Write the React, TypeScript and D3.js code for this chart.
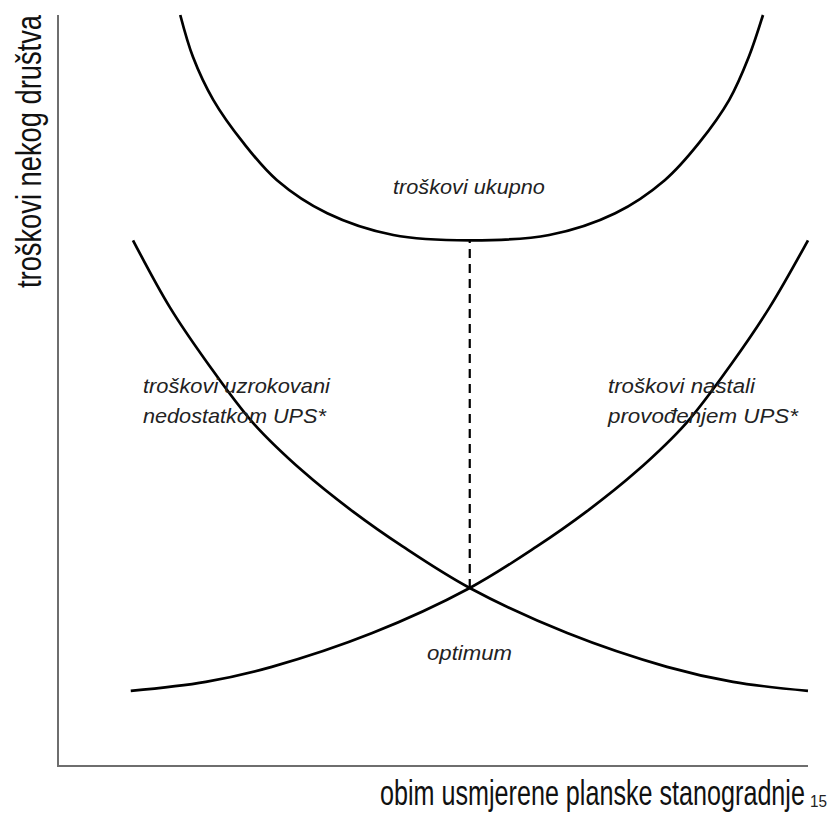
import React, { useLayoutEffect, useRef, useState } from "react";
import * as d3 from "d3";

// values (x: obim 0..100, y: troškovi 0..100)
const nedostatakX = [10, 14.9, 19.9, 26, 32.7, 39.3, 46, 54.9, 67.9, 81.2, 90, 100];
const nedostatakY = [70.0, 61.1, 53.7, 45.7, 39.2, 33.9, 29.2, 23.7, 17.7, 13.2, 11.2, 10.0];

const provodenjeX = [9.7, 19.7, 28.5, 41.9, 54.9, 63.8, 70.5, 77.1, 83.8, 89.9, 94.9, 100];
const provodenjeY = [10.0, 11.2, 13.2, 17.7, 23.7, 29.2, 33.9, 39.2, 45.7, 53.7, 61.1, 70.0];

const ukupnoX = [16.3, 18, 20.7, 24.7, 29.2, 35.9, 44.7, 54.9, 65.5, 74.3, 80.9, 85.5, 89.5, 92.1, 94];
const ukupnoY = [100, 94.4, 88.7, 83, 78, 73.6, 70.7, 70.0, 70.7, 73.6, 78, 83, 88.7, 94.4, 100];

const optimumX = 54.9;
const optimumY = [23.7, 70.0];

const yLabel = "troškovi nekog društva";
const xLabel = "obim usmjerene planske stanogradnje";
const pageNumber = "15";

const W = 829;
const H = 813;

const FONT = "'Liberation Sans Narrow', 'Liberation Sans', Arial, sans-serif";

// text squeezed horizontally to the width it has in the reference
const FitText = ({ x, y, width, rotate = 0, style, children }: any) => {
    const ref = useRef<SVGTextElement>(null);
    const [k, setK] = useState(1);
    useLayoutEffect(() => {
        if (ref.current) {
            const w = ref.current.getComputedTextLength();
            if (w > 0) setK(width / w);
        }
    }, [width, children]);
    return (
        <text ref={ref} transform={`translate(${x},${y}) rotate(${rotate}) scale(${k},1)`} style={style}>
            {children}
        </text>
    );
};

const App = () => {
    const margin = { top: 15, right: 21, bottom: 47, left: 58 };

    const x = d3.scaleLinear().domain([0, 100]).range([margin.left, W - margin.right]);
    const y = d3.scaleLinear().domain([0, 100]).range([H - margin.bottom, margin.top]);

    const line = d3.line<[number, number]>()
        .x(d => x(d[0]))
        .y(d => y(d[1]))
        .curve(d3.curveCatmullRom.alpha(0.5));

    const zip = (xs: number[], ys: number[]) => xs.map((v, i) => [v, ys[i]] as [number, number]);

    const series = [
        zip(nedostatakX, nedostatakY),
        zip(provodenjeX, provodenjeY),
        zip(ukupnoX, ukupnoY),
    ];

    const italic = { fontFamily: FONT, fontStyle: "italic", fontSize: "20px", fill: "#222" };
    const big = { fontFamily: FONT, fontSize: "36px", fill: "#111" };

    const [x0, x1] = x.range();
    const [y0, y1] = y.range();

    return (
        <svg width={W} height={H} viewBox={`0 0 ${W} ${H}`}
            style={{ position: "fixed", left: 0, top: 0, background: "#fff" }}>
            {/* axes */}
            <line x1={x0} x2={x0} y1={y0 + 1} y2={y1} stroke="#6e6e6e" strokeWidth={2} />
            <line x1={x0} x2={x1} y1={y0} y2={y0} stroke="#6e6e6e" strokeWidth={2} />

            {/* curves */}
            {series.map((s, i) => (
                <path key={i} d={line(s) || ""} fill="none" stroke="#000" strokeWidth={2.7} />
            ))}

            {/* optimum marker */}
            <line x1={x(optimumX)} x2={x(optimumX)} y1={y(optimumY[0])} y2={y(optimumY[1])}
                stroke="#000" strokeWidth={2.2} strokeDasharray="9,6" />

            {/* labels */}
            <FitText x={393} y={194} width={152} style={italic}>troškovi ukupno</FitText>
            <FitText x={143} y={393} width={187} style={italic}>troškovi uzrokovani</FitText>
            <FitText x={143} y={423} width={183} style={italic}>nedostatkom UPS*</FitText>
            <FitText x={608} y={393} width={147} style={italic}>troškovi nastali</FitText>
            <FitText x={608} y={423} width={190} style={italic}>provođenjem UPS*</FitText>
            <FitText x={427} y={660} width={85} style={italic}>optimum</FitText>

            {/* axis titles */}
            <FitText x={41} y={288} rotate={-90} width={273} style={big}>{yLabel}</FitText>
            <FitText x={380} y={805} width={425} style={big}>{xLabel}</FitText>
            <FitText x={810} y={807} width={17}
                style={{ fontFamily: "'Liberation Sans', Arial, sans-serif", fontSize: "17px", fill: "#222" }}>{pageNumber}</FitText>
        </svg>
    );
};

export default App;
